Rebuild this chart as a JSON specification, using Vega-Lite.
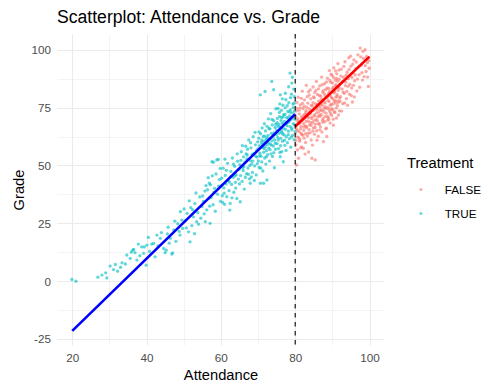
{
  "$schema": "https://vega.github.io/schema/vega-lite/v6.json",
  "autosize": {"type": "none"},
  "padding": {"left": 57, "top": 34, "right": 104, "bottom": 43},
  "width": 327,
  "height": 311,
  "title": {"text": "Scatterplot: Attendance vs. Grade", "anchor": "start", "frame": "group", "fontSize": 17.6, "fontWeight": "normal", "color": "black", "baseline": "alphabetic", "offset": 12, "dy": 19},
  "config": {
    "font": "Liberation Sans",
    "view": {"stroke": null},
    "axis": {"domain": false, "ticks": false, "gridColor": "#EBEBEB", "labelColor": "#4D4D4D", "labelFontSize": 11.7, "titleFontSize": 14.7, "titleFontWeight": "normal", "titleColor": "black", "labelFont": "Liberation Sans", "titleFont": "Liberation Sans"},
    "legend": {"titleFontSize": 14.7, "titleFontWeight": "normal", "titleColor": "black", "labelFontSize": 11.7, "labelColor": "black", "padding": 0}
  },
  "datasets": {
    "pts": [
      {"att":80.1,"grade":71.5,"treat":"FALSE"},{"att":80.2,"grade":58.9,"treat":"FALSE"},{"att":80.3,"grade":66.0,"treat":"FALSE"},{"att":80.4,"grade":50.2,"treat":"FALSE"},{"att":80.5,"grade":74.8,"treat":"FALSE"},{"att":80.6,"grade":62.3,"treat":"FALSE"},{"att":80.7,"grade":69.1,"treat":"FALSE"},{"att":80.8,"grade":79.5,"treat":"FALSE"},{"att":80.9,"grade":53.1,"treat":"FALSE"},{"att":81.0,"grade":64.7,"treat":"FALSE"},
      {"att":81.1,"grade":72.3,"treat":"FALSE"},{"att":81.2,"grade":60.5,"treat":"FALSE"},{"att":81.3,"grade":68.8,"treat":"FALSE"},{"att":81.4,"grade":76.2,"treat":"FALSE"},{"att":81.5,"grade":57.6,"treat":"FALSE"},{"att":81.6,"grade":66.9,"treat":"FALSE"},{"att":81.7,"grade":71.0,"treat":"FALSE"},{"att":81.8,"grade":63.4,"treat":"FALSE"},{"att":81.9,"grade":82.1,"treat":"FALSE"},{"att":82.0,"grade":69.5,"treat":"FALSE"},
      {"att":82.2,"grade":57.4,"treat":"FALSE"},{"att":82.1,"grade":74.6,"treat":"FALSE"},{"att":82.3,"grade":65.2,"treat":"FALSE"},{"att":82.4,"grade":61.8,"treat":"FALSE"},{"att":82.5,"grade":78.3,"treat":"FALSE"},{"att":82.6,"grade":70.4,"treat":"FALSE"},{"att":82.7,"grade":67.1,"treat":"FALSE"},{"att":82.8,"grade":59.9,"treat":"FALSE"},{"att":82.9,"grade":73.7,"treat":"FALSE"},{"att":83.0,"grade":84.6,"treat":"FALSE"},
      {"att":83.1,"grade":66.3,"treat":"FALSE"},{"att":83.2,"grade":71.8,"treat":"FALSE"},{"att":83.3,"grade":62.7,"treat":"FALSE"},{"att":83.4,"grade":76.9,"treat":"FALSE"},{"att":83.5,"grade":69.2,"treat":"FALSE"},{"att":83.6,"grade":55.8,"treat":"FALSE"},{"att":83.7,"grade":73.0,"treat":"FALSE"},{"att":83.8,"grade":80.4,"treat":"FALSE"},{"att":83.9,"grade":67.6,"treat":"FALSE"},{"att":84.0,"grade":64.1,"treat":"FALSE"},
      {"att":84.1,"grade":72.5,"treat":"FALSE"},{"att":84.2,"grade":78.8,"treat":"FALSE"},{"att":84.3,"grade":61.0,"treat":"FALSE"},{"att":84.4,"grade":70.3,"treat":"FALSE"},{"att":84.5,"grade":53.1,"treat":"FALSE"},{"att":84.6,"grade":75.7,"treat":"FALSE"},{"att":84.7,"grade":68.4,"treat":"FALSE"},{"att":84.8,"grade":83.9,"treat":"FALSE"},{"att":84.9,"grade":66.2,"treat":"FALSE"},{"att":85.0,"grade":73.9,"treat":"FALSE"},
      {"att":85.1,"grade":79.2,"treat":"FALSE"},{"att":85.2,"grade":63.5,"treat":"FALSE"},{"att":85.3,"grade":71.4,"treat":"FALSE"},{"att":85.4,"grade":52.4,"treat":"FALSE"},{"att":85.5,"grade":76.6,"treat":"FALSE"},{"att":85.6,"grade":69.8,"treat":"FALSE"},{"att":85.7,"grade":86.3,"treat":"FALSE"},{"att":85.8,"grade":65.0,"treat":"FALSE"},{"att":85.9,"grade":74.2,"treat":"FALSE"},{"att":86.0,"grade":80.7,"treat":"FALSE"},
      {"att":86.1,"grade":70.9,"treat":"FALSE"},{"att":86.2,"grade":62.6,"treat":"FALSE"},{"att":86.3,"grade":77.8,"treat":"FALSE"},{"att":86.4,"grade":73.1,"treat":"FALSE"},{"att":86.5,"grade":68.0,"treat":"FALSE"},{"att":86.6,"grade":84.4,"treat":"FALSE"},{"att":86.7,"grade":75.3,"treat":"FALSE"},{"att":86.8,"grade":66.7,"treat":"FALSE"},{"att":86.9,"grade":79.9,"treat":"FALSE"},{"att":87.0,"grade":72.0,"treat":"FALSE"},
      {"att":87.1,"grade":88.2,"treat":"FALSE"},{"att":87.2,"grade":64.4,"treat":"FALSE"},{"att":87.3,"grade":76.1,"treat":"FALSE"},{"att":87.4,"grade":81.6,"treat":"FALSE"},{"att":87.5,"grade":70.2,"treat":"FALSE"},{"att":87.6,"grade":60.3,"treat":"FALSE"},{"att":87.7,"grade":78.5,"treat":"FALSE"},{"att":87.8,"grade":74.7,"treat":"FALSE"},{"att":87.9,"grade":85.3,"treat":"FALSE"},{"att":88.0,"grade":68.9,"treat":"FALSE"},
      {"att":88.1,"grade":77.0,"treat":"FALSE"},{"att":88.2,"grade":82.8,"treat":"FALSE"},{"att":88.3,"grade":72.6,"treat":"FALSE"},{"att":88.4,"grade":66.1,"treat":"FALSE"},{"att":88.5,"grade":62.5,"treat":"FALSE"},{"att":88.6,"grade":79.4,"treat":"FALSE"},{"att":88.7,"grade":87.7,"treat":"FALSE"},{"att":88.8,"grade":75.0,"treat":"FALSE"},{"att":88.9,"grade":70.8,"treat":"FALSE"},{"att":89.0,"grade":83.3,"treat":"FALSE"},
      {"att":89.1,"grade":77.6,"treat":"FALSE"},{"att":89.2,"grade":91.0,"treat":"FALSE"},{"att":89.3,"grade":73.4,"treat":"FALSE"},{"att":89.4,"grade":68.3,"treat":"FALSE"},{"att":89.5,"grade":80.1,"treat":"FALSE"},{"att":89.6,"grade":85.9,"treat":"FALSE"},{"att":89.7,"grade":76.4,"treat":"FALSE"},{"att":89.8,"grade":71.7,"treat":"FALSE"},{"att":89.9,"grade":88.9,"treat":"FALSE"},{"att":90.0,"grade":79.0,"treat":"FALSE"},
      {"att":90.1,"grade":74.1,"treat":"FALSE"},{"att":90.2,"grade":83.7,"treat":"FALSE"},{"att":90.3,"grade":67.4,"treat":"FALSE"},{"att":90.4,"grade":92.2,"treat":"FALSE"},{"att":90.5,"grade":78.2,"treat":"FALSE"},{"att":90.6,"grade":81.9,"treat":"FALSE"},{"att":90.7,"grade":72.9,"treat":"FALSE"},{"att":90.8,"grade":86.8,"treat":"FALSE"},{"att":90.9,"grade":76.9,"treat":"FALSE"},{"att":91.0,"grade":84.9,"treat":"FALSE"},
      {"att":91.1,"grade":70.5,"treat":"FALSE"},{"att":91.2,"grade":89.6,"treat":"FALSE"},{"att":91.3,"grade":80.6,"treat":"FALSE"},{"att":91.4,"grade":75.8,"treat":"FALSE"},{"att":91.5,"grade":94.0,"treat":"FALSE"},{"att":91.6,"grade":82.4,"treat":"FALSE"},{"att":91.7,"grade":77.3,"treat":"FALSE"},{"att":91.8,"grade":87.2,"treat":"FALSE"},{"att":91.9,"grade":73.6,"treat":"FALSE"},{"att":92.0,"grade":85.1,"treat":"FALSE"},
      {"att":92.2,"grade":79.7,"treat":"FALSE"},{"att":92.4,"grade":91.6,"treat":"FALSE"},{"att":92.6,"grade":83.0,"treat":"FALSE"},{"att":92.8,"grade":76.7,"treat":"FALSE"},{"att":93.0,"grade":88.1,"treat":"FALSE"},{"att":93.2,"grade":81.2,"treat":"FALSE"},{"att":93.4,"grade":94.8,"treat":"FALSE"},{"att":93.6,"grade":86.0,"treat":"FALSE"},{"att":93.8,"grade":78.9,"treat":"FALSE"},{"att":94.0,"grade":90.3,"treat":"FALSE"},
      {"att":94.2,"grade":84.2,"treat":"FALSE"},{"att":94.4,"grade":96.5,"treat":"FALSE"},{"att":94.6,"grade":80.8,"treat":"FALSE"},{"att":94.8,"grade":88.7,"treat":"FALSE"},{"att":95.0,"grade":92.9,"treat":"FALSE"},{"att":95.2,"grade":83.5,"treat":"FALSE"},{"att":95.4,"grade":77.4,"treat":"FALSE"},{"att":95.6,"grade":89.9,"treat":"FALSE"},{"att":95.8,"grade":95.6,"treat":"FALSE"},{"att":96.0,"grade":86.6,"treat":"FALSE"},
      {"att":96.3,"grade":91.8,"treat":"FALSE"},{"att":96.6,"grade":82.2,"treat":"FALSE"},{"att":96.9,"grade":97.8,"treat":"FALSE"},{"att":97.2,"grade":89.2,"treat":"FALSE"},{"att":97.5,"grade":100.7,"treat":"FALSE"},{"att":97.8,"grade":93.4,"treat":"FALSE"},{"att":98.1,"grade":86.9,"treat":"FALSE"},{"att":98.4,"grade":96.2,"treat":"FALSE"},{"att":98.8,"grade":100.0,"treat":"FALSE"},{"att":99.1,"grade":90.6,"treat":"FALSE"},
      {"att":99.4,"grade":94.4,"treat":"FALSE"},{"att":99.7,"grade":84.1,"treat":"FALSE"},{"att":99.9,"grade":92.0,"treat":"FALSE"},
      {"att":80.05,"grade":63.8,"treat":"FALSE"},{"att":80.25,"grade":70.6,"treat":"FALSE"},{"att":80.45,"grade":77.2,"treat":"FALSE"},{"att":80.65,"grade":56.7,"treat":"FALSE"},{"att":80.85,"grade":68.3,"treat":"FALSE"},{"att":81.05,"grade":73.9,"treat":"FALSE"},{"att":81.25,"grade":61.2,"treat":"FALSE"},{"att":81.45,"grade":65.9,"treat":"FALSE"},{"att":81.65,"grade":79.0,"treat":"FALSE"},{"att":81.85,"grade":70.2,"treat":"FALSE"},
      {"att":82.05,"grade":63.0,"treat":"FALSE"},{"att":82.25,"grade":68.1,"treat":"FALSE"},{"att":82.45,"grade":75.6,"treat":"FALSE"},{"att":82.65,"grade":54.9,"treat":"FALSE"},{"att":82.85,"grade":72.8,"treat":"FALSE"},{"att":83.05,"grade":66.9,"treat":"FALSE"},{"att":83.25,"grade":79.7,"treat":"FALSE"},{"att":83.45,"grade":63.9,"treat":"FALSE"},{"att":83.65,"grade":70.7,"treat":"FALSE"},{"att":83.85,"grade":74.4,"treat":"FALSE"},
      {"att":84.05,"grade":82.6,"treat":"FALSE"},{"att":84.25,"grade":67.3,"treat":"FALSE"},{"att":84.45,"grade":73.5,"treat":"FALSE"},{"att":84.65,"grade":58.8,"treat":"FALSE"},{"att":84.85,"grade":77.1,"treat":"FALSE"},{"att":85.05,"grade":69.4,"treat":"FALSE"},{"att":85.25,"grade":81.5,"treat":"FALSE"},{"att":85.45,"grade":67.8,"treat":"FALSE"},{"att":85.65,"grade":74.9,"treat":"FALSE"},{"att":85.85,"grade":60.9,"treat":"FALSE"},
      {"att":86.05,"grade":76.3,"treat":"FALSE"},{"att":86.25,"grade":83.1,"treat":"FALSE"},{"att":86.45,"grade":71.6,"treat":"FALSE"},{"att":86.65,"grade":65.4,"treat":"FALSE"},{"att":86.85,"grade":74.0,"treat":"FALSE"},{"att":87.05,"grade":78.6,"treat":"FALSE"},{"att":87.25,"grade":84.9,"treat":"FALSE"},{"att":87.45,"grade":68.7,"treat":"FALSE"},{"att":87.65,"grade":73.3,"treat":"FALSE"},{"att":87.85,"grade":80.9,"treat":"FALSE"},
      {"att":88.05,"grade":75.4,"treat":"FALSE"},{"att":88.25,"grade":65.8,"treat":"FALSE"},{"att":88.45,"grade":86.1,"treat":"FALSE"},{"att":88.65,"grade":71.2,"treat":"FALSE"},{"att":88.85,"grade":78.1,"treat":"FALSE"},{"att":89.05,"grade":69.9,"treat":"FALSE"},{"att":89.25,"grade":82.0,"treat":"FALSE"},{"att":89.45,"grade":76.0,"treat":"FALSE"},{"att":89.65,"grade":89.4,"treat":"FALSE"},{"att":89.85,"grade":74.5,"treat":"FALSE"},
      {"att":90.05,"grade":85.6,"treat":"FALSE"},{"att":90.25,"grade":70.0,"treat":"FALSE"},{"att":90.45,"grade":81.3,"treat":"FALSE"},{"att":90.65,"grade":77.7,"treat":"FALSE"},{"att":90.85,"grade":90.8,"treat":"FALSE"},{"att":91.05,"grade":74.8,"treat":"FALSE"},{"att":91.25,"grade":79.9,"treat":"FALSE"},{"att":91.45,"grade":86.4,"treat":"FALSE"},{"att":91.65,"grade":71.8,"treat":"FALSE"},{"att":91.85,"grade":83.6,"treat":"FALSE"},
      {"att":92.1,"grade":77.8,"treat":"FALSE"},{"att":92.3,"grade":88.6,"treat":"FALSE"},{"att":92.5,"grade":73.5,"treat":"FALSE"},{"att":92.7,"grade":86.2,"treat":"FALSE"},{"att":92.9,"grade":81.7,"treat":"FALSE"},{"att":93.1,"grade":92.8,"treat":"FALSE"},{"att":93.3,"grade":77.0,"treat":"FALSE"},{"att":93.5,"grade":84.5,"treat":"FALSE"},{"att":93.7,"grade":89.0,"treat":"FALSE"},{"att":93.9,"grade":82.0,"treat":"FALSE"},
      {"att":94.1,"grade":76.0,"treat":"FALSE"},{"att":94.3,"grade":87.5,"treat":"FALSE"},{"att":94.5,"grade":91.5,"treat":"FALSE"},{"att":94.7,"grade":85.0,"treat":"FALSE"},{"att":94.9,"grade":97.2,"treat":"FALSE"},{"att":95.1,"grade":80.2,"treat":"FALSE"},{"att":95.3,"grade":88.0,"treat":"FALSE"},{"att":95.5,"grade":93.8,"treat":"FALSE"},{"att":95.7,"grade":84.6,"treat":"FALSE"},{"att":95.9,"grade":79.6,"treat":"FALSE"},
      {"att":96.15,"grade":89.1,"treat":"FALSE"},{"att":96.45,"grade":94.7,"treat":"FALSE"},{"att":96.75,"grade":87.3,"treat":"FALSE"},{"att":97.05,"grade":92.6,"treat":"FALSE"},{"att":97.35,"grade":83.8,"treat":"FALSE"},{"att":97.65,"grade":96.9,"treat":"FALSE"},{"att":97.95,"grade":90.1,"treat":"FALSE"},{"att":98.25,"grade":99.3,"treat":"FALSE"},{"att":98.55,"grade":88.4,"treat":"FALSE"},{"att":98.85,"grade":93.1,"treat":"FALSE"},
      {"att":99.2,"grade":97.1,"treat":"FALSE"},{"att":99.5,"grade":88.2,"treat":"FALSE"},{"att":99.8,"grade":95.3,"treat":"FALSE"},
      {"att":80.15,"grade":60.8,"treat":"FALSE"},{"att":80.35,"grade":73.6,"treat":"FALSE"},{"att":80.55,"grade":65.1,"treat":"FALSE"},{"att":80.75,"grade":70.0,"treat":"FALSE"},{"att":80.95,"grade":62.0,"treat":"FALSE"},{"att":81.15,"grade":68.2,"treat":"FALSE"},{"att":81.35,"grade":74.9,"treat":"FALSE"},{"att":81.55,"grade":63.9,"treat":"FALSE"},{"att":81.75,"grade":58.0,"treat":"FALSE"},{"att":81.95,"grade":76.8,"treat":"FALSE"},
      {"att":82.15,"grade":71.4,"treat":"FALSE"},{"att":82.35,"grade":66.6,"treat":"FALSE"},{"att":82.55,"grade":72.1,"treat":"FALSE"},{"att":82.75,"grade":63.7,"treat":"FALSE"},{"att":82.95,"grade":69.0,"treat":"FALSE"},{"att":83.15,"grade":75.1,"treat":"FALSE"},{"att":83.35,"grade":71.0,"treat":"FALSE"},{"att":83.55,"grade":81.8,"treat":"FALSE"},{"att":83.75,"grade":65.5,"treat":"FALSE"},{"att":83.95,"grade":72.2,"treat":"FALSE"},
      {"att":84.15,"grade":68.6,"treat":"FALSE"},{"att":84.35,"grade":76.0,"treat":"FALSE"},{"att":84.55,"grade":70.9,"treat":"FALSE"},{"att":84.75,"grade":64.8,"treat":"FALSE"},{"att":84.95,"grade":79.6,"treat":"FALSE"},{"att":85.15,"grade":71.8,"treat":"FALSE"},{"att":85.35,"grade":66.4,"treat":"FALSE"},{"att":85.55,"grade":82.4,"treat":"FALSE"},{"att":85.75,"grade":72.7,"treat":"FALSE"},{"att":85.95,"grade":69.3,"treat":"FALSE"},
      {"att":86.15,"grade":75.6,"treat":"FALSE"},{"att":86.35,"grade":67.9,"treat":"FALSE"},{"att":86.55,"grade":80.2,"treat":"FALSE"},{"att":86.75,"grade":71.3,"treat":"FALSE"},{"att":86.95,"grade":76.5,"treat":"FALSE"},{"att":87.15,"grade":73.8,"treat":"FALSE"},{"att":87.35,"grade":69.5,"treat":"FALSE"},{"att":87.55,"grade":82.3,"treat":"FALSE"},{"att":87.75,"grade":77.4,"treat":"FALSE"},{"att":87.95,"grade":71.1,"treat":"FALSE"},
      {"att":88.15,"grade":80.0,"treat":"FALSE"},{"att":88.35,"grade":74.6,"treat":"FALSE"},{"att":88.55,"grade":83.5,"treat":"FALSE"},{"att":88.75,"grade":69.6,"treat":"FALSE"},{"att":88.95,"grade":81.1,"treat":"FALSE"},{"att":89.15,"grade":74.3,"treat":"FALSE"},{"att":89.35,"grade":86.7,"treat":"FALSE"},{"att":89.55,"grade":72.4,"treat":"FALSE"},{"att":89.75,"grade":79.3,"treat":"FALSE"},{"att":89.95,"grade":83.0,"treat":"FALSE"},
      {"att":90.15,"grade":76.6,"treat":"FALSE"},{"att":90.35,"grade":88.0,"treat":"FALSE"},{"att":90.55,"grade":73.1,"treat":"FALSE"},{"att":90.75,"grade":84.3,"treat":"FALSE"},{"att":90.95,"grade":79.5,"treat":"FALSE"},{"att":91.15,"grade":87.6,"treat":"FALSE"},{"att":91.35,"grade":77.9,"treat":"FALSE"},{"att":91.55,"grade":83.9,"treat":"FALSE"},{"att":91.75,"grade":91.2,"treat":"FALSE"},{"att":91.95,"grade":79.1,"treat":"FALSE"},
      {"att":19.9,"grade":0.7,"treat":"TRUE"},{"att":21.0,"grade":0.0,"treat":"TRUE"},{"att":26.9,"grade":1.7,"treat":"TRUE"},{"att":28.0,"grade":2.6,"treat":"TRUE"},{"att":29.0,"grade":3.6,"treat":"TRUE"},{"att":29.3,"grade":1.4,"treat":"TRUE"},{"att":30.2,"grade":6.5,"treat":"TRUE"},{"att":31.1,"grade":5.0,"treat":"TRUE"},{"att":31.6,"grade":7.2,"treat":"TRUE"},{"att":33.4,"grade":7.9,"treat":"TRUE"},{"att":34.3,"grade":7.4,"treat":"TRUE"},{"att":34.7,"grade":11.3,"treat":"TRUE"},
      {"att":35.6,"grade":9.8,"treat":"TRUE"},{"att":36.5,"grade":13.7,"treat":"TRUE"},{"att":36.9,"grade":12.3,"treat":"TRUE"},{"att":37.4,"grade":9.1,"treat":"TRUE"},{"att":38.7,"grade":14.8,"treat":"TRUE"},{"att":39.2,"grade":12.0,"treat":"TRUE"},{"att":39.9,"grade":6.9,"treat":"TRUE"},{"att":40.1,"grade":15.6,"treat":"TRUE"},{"att":40.5,"grade":18.9,"treat":"TRUE"},{"att":41.4,"grade":16.0,"treat":"TRUE"},{"att":42.3,"grade":10.5,"treat":"TRUE"},{"att":43.7,"grade":18.5,"treat":"TRUE"},
      {"att":36.3,"grade":13.4,"treat":"TRUE"},{"att":39.4,"grade":14.8,"treat":"TRUE"},{"att":41.9,"grade":16.3,"treat":"TRUE"},{"att":44.6,"grade":14.1,"treat":"TRUE"},{"att":37.8,"grade":16.0,"treat":"TRUE"},{"att":38.2,"grade":11.0,"treat":"TRUE"},{"att":40.8,"grade":12.8,"treat":"TRUE"},{"att":42.8,"grade":19.9,"treat":"TRUE"},{"att":43.1,"grade":15.2,"treat":"TRUE"},{"att":44.0,"grade":21.0,"treat":"TRUE"},{"att":35.9,"grade":12.5,"treat":"TRUE"},{"att":33.0,"grade":6.0,"treat":"TRUE"},{"att":32.2,"grade":4.3,"treat":"TRUE"},
      {"att":45.0,"grade":12.3,"treat":"TRUE"},{"att":45.3,"grade":13.4,"treat":"TRUE"},{"att":46.8,"grade":11.7,"treat":"TRUE"},{"att":47.0,"grade":12.2,"treat":"TRUE"},{"att":46.4,"grade":18.5,"treat":"TRUE"},{"att":45.6,"grade":20.4,"treat":"TRUE"},{"att":47.3,"grade":22.1,"treat":"TRUE"},{"att":47.9,"grade":17.2,"treat":"TRUE"},{"att":48.4,"grade":24.8,"treat":"TRUE"},{"att":49.0,"grade":19.9,"treat":"TRUE"},{"att":49.1,"grade":30.0,"treat":"TRUE"},{"att":49.5,"grade":26.4,"treat":"TRUE"},{"att":48.8,"grade":21.5,"treat":"TRUE"},{"att":46.1,"grade":16.4,"treat":"TRUE"},{"att":47.6,"grade":25.9,"treat":"TRUE"},{"att":45.8,"grade":23.3,"treat":"TRUE"},{"att":49.7,"grade":22.8,"treat":"TRUE"},
      {"att":50.9,"grade":29.3,"treat":"TRUE"},{"att":51.3,"grade":21.3,"treat":"TRUE"},{"att":51.7,"grade":17.0,"treat":"TRUE"},{"att":52.6,"grade":27.8,"treat":"TRUE"},{"att":53.5,"grade":25.7,"treat":"TRUE"},{"att":54.9,"grade":32.2,"treat":"TRUE"},{"att":50.4,"grade":26.1,"treat":"TRUE"},{"att":51.9,"grade":31.8,"treat":"TRUE"},{"att":52.2,"grade":24.0,"treat":"TRUE"},{"att":53.0,"grade":33.5,"treat":"TRUE"},{"att":53.8,"grade":29.6,"treat":"TRUE"},{"att":54.3,"grade":36.4,"treat":"TRUE"},{"att":50.7,"grade":23.0,"treat":"TRUE"},{"att":52.9,"grade":20.5,"treat":"TRUE"},{"att":54.6,"grade":27.2,"treat":"TRUE"},{"att":51.5,"grade":34.7,"treat":"TRUE"},{"att":53.3,"grade":38.1,"treat":"TRUE"},{"att":54.0,"grade":24.6,"treat":"TRUE"},{"att":52.4,"grade":30.9,"treat":"TRUE"},{"att":50.1,"grade":31.2,"treat":"TRUE"},
      {"att":55.8,"grade":25.7,"treat":"TRUE"},{"att":57.1,"grade":25.0,"treat":"TRUE"},{"att":57.2,"grade":41.6,"treat":"TRUE"},{"att":56.9,"grade":42.3,"treat":"TRUE"},{"att":57.6,"grade":51.6,"treat":"TRUE"},{"att":58.9,"grade":52.4,"treat":"TRUE"},{"att":58.0,"grade":51.4,"treat":"TRUE"},{"att":59.3,"grade":52.6,"treat":"TRUE"},{"att":55.3,"grade":34.5,"treat":"TRUE"},{"att":55.7,"grade":38.9,"treat":"TRUE"},{"att":56.2,"grade":30.8,"treat":"TRUE"},{"att":56.6,"grade":44.7,"treat":"TRUE"},{"att":57.4,"grade":36.2,"treat":"TRUE"},{"att":57.9,"grade":33.0,"treat":"TRUE"},{"att":58.3,"grade":40.1,"treat":"TRUE"},
      {"att":58.7,"grade":46.3,"treat":"TRUE"},{"att":59.1,"grade":37.6,"treat":"TRUE"},{"att":59.6,"grade":43.9,"treat":"TRUE"},{"att":55.5,"grade":29.1,"treat":"TRUE"},{"att":56.0,"grade":41.3,"treat":"TRUE"},{"att":56.8,"grade":35.8,"treat":"TRUE"},{"att":58.5,"grade":30.2,"treat":"TRUE"},{"att":59.8,"grade":48.7,"treat":"TRUE"},{"att":55.1,"grade":36.8,"treat":"TRUE"},{"att":56.4,"grade":39.5,"treat":"TRUE"},{"att":57.7,"grade":45.5,"treat":"TRUE"},{"att":58.1,"grade":38.3,"treat":"TRUE"},{"att":59.4,"grade":41.0,"treat":"TRUE"},{"att":59.9,"grade":34.5,"treat":"TRUE"},{"att":57.0,"grade":32.4,"treat":"TRUE"},
      {"att":60.2,"grade":44.5,"treat":"TRUE"},{"att":60.4,"grade":36.9,"treat":"TRUE"},{"att":60.6,"grade":48.8,"treat":"TRUE"},{"att":60.8,"grade":40.3,"treat":"TRUE"},{"att":61.0,"grade":33.2,"treat":"TRUE"},{"att":61.2,"grade":45.7,"treat":"TRUE"},{"att":61.4,"grade":42.0,"treat":"TRUE"},{"att":61.6,"grade":36.5,"treat":"TRUE"},{"att":61.8,"grade":50.9,"treat":"TRUE"},{"att":62.0,"grade":43.6,"treat":"TRUE"},{"att":62.2,"grade":39.1,"treat":"TRUE"},{"att":62.5,"grade":33.6,"treat":"TRUE"},{"att":62.4,"grade":30.7,"treat":"TRUE"},
      {"att":62.7,"grade":47.4,"treat":"TRUE"},{"att":62.9,"grade":41.8,"treat":"TRUE"},{"att":63.1,"grade":53.2,"treat":"TRUE"},{"att":63.3,"grade":44.9,"treat":"TRUE"},{"att":63.5,"grade":38.4,"treat":"TRUE"},{"att":63.7,"grade":49.6,"treat":"TRUE"},{"att":63.9,"grade":42.7,"treat":"TRUE"},{"att":64.1,"grade":46.0,"treat":"TRUE"},{"att":64.3,"grade":35.7,"treat":"TRUE"},{"att":64.5,"grade":51.8,"treat":"TRUE"},{"att":64.7,"grade":44.1,"treat":"TRUE"},{"att":64.9,"grade":48.3,"treat":"TRUE"},
      {"att":60.1,"grade":41.2,"treat":"TRUE"},{"att":60.9,"grade":38.0,"treat":"TRUE"},{"att":61.5,"grade":47.9,"treat":"TRUE"},{"att":62.3,"grade":42.8,"treat":"TRUE"},{"att":63.0,"grade":36.0,"treat":"TRUE"},{"att":63.8,"grade":45.5,"treat":"TRUE"},{"att":64.4,"grade":55.0,"treat":"TRUE"},{"att":65.2,"grade":34.3,"treat":"TRUE"},{"att":61.1,"grade":52.7,"treat":"TRUE"},{"att":62.6,"grade":45.0,"treat":"TRUE"},{"att":64.0,"grade":40.2,"treat":"TRUE"},{"att":60.5,"grade":34.0,"treat":"TRUE"},{"att":63.4,"grade":50.5,"treat":"TRUE"},
      {"att":65.1,"grade":50.3,"treat":"TRUE"},{"att":65.3,"grade":45.6,"treat":"TRUE"},{"att":65.5,"grade":55.9,"treat":"TRUE"},{"att":65.7,"grade":43.1,"treat":"TRUE"},{"att":65.9,"grade":49.0,"treat":"TRUE"},{"att":66.1,"grade":53.7,"treat":"TRUE"},{"att":66.3,"grade":39.8,"treat":"TRUE"},{"att":66.5,"grade":51.4,"treat":"TRUE"},{"att":66.7,"grade":58.3,"treat":"TRUE"},{"att":66.9,"grade":46.4,"treat":"TRUE"},{"att":67.1,"grade":54.5,"treat":"TRUE"},{"att":67.3,"grade":48.9,"treat":"TRUE"},{"att":67.5,"grade":61.0,"treat":"TRUE"},{"att":67.7,"grade":44.2,"treat":"TRUE"},{"att":67.9,"grade":42.3,"treat":"TRUE"},
      {"att":67.95,"grade":52.1,"treat":"TRUE"},{"att":68.1,"grade":57.6,"treat":"TRUE"},{"att":68.3,"grade":50.7,"treat":"TRUE"},{"att":68.5,"grade":47.0,"treat":"TRUE"},{"att":68.7,"grade":62.4,"treat":"TRUE"},{"att":68.9,"grade":55.2,"treat":"TRUE"},{"att":69.1,"grade":49.8,"treat":"TRUE"},{"att":69.3,"grade":58.9,"treat":"TRUE"},{"att":69.5,"grade":45.9,"treat":"TRUE"},{"att":69.7,"grade":53.6,"treat":"TRUE"},{"att":69.9,"grade":60.2,"treat":"TRUE"},{"att":65.4,"grade":52.2,"treat":"TRUE"},{"att":66.0,"grade":47.8,"treat":"TRUE"},{"att":66.6,"grade":44.9,"treat":"TRUE"},{"att":67.2,"grade":57.0,"treat":"TRUE"},
      {"att":67.8,"grade":50.0,"treat":"TRUE"},{"att":68.4,"grade":54.8,"treat":"TRUE"},{"att":69.0,"grade":43.5,"treat":"TRUE"},{"att":69.6,"grade":56.4,"treat":"TRUE"},{"att":65.8,"grade":58.6,"treat":"TRUE"},{"att":66.8,"grade":55.0,"treat":"TRUE"},{"att":67.4,"grade":46.2,"treat":"TRUE"},{"att":68.0,"grade":59.8,"treat":"TRUE"},{"att":68.6,"grade":51.9,"treat":"TRUE"},{"att":69.2,"grade":64.3,"treat":"TRUE"},{"att":69.8,"grade":50.8,"treat":"TRUE"},{"att":66.2,"grade":49.5,"treat":"TRUE"},{"att":67.0,"grade":52.8,"treat":"TRUE"},{"att":68.2,"grade":45.0,"treat":"TRUE"},{"att":69.4,"grade":54.0,"treat":"TRUE"},{"att":65.0,"grade":42.0,"treat":"TRUE"},
      {"att":70.0,"grade":57.2,"treat":"TRUE"},{"att":70.1,"grade":52.0,"treat":"TRUE"},{"att":70.2,"grade":61.8,"treat":"TRUE"},{"att":70.3,"grade":49.1,"treat":"TRUE"},{"att":70.4,"grade":58.6,"treat":"TRUE"},{"att":70.5,"grade":55.3,"treat":"TRUE"},{"att":70.6,"grade":80.5,"treat":"TRUE"},{"att":70.65,"grade":42.3,"treat":"TRUE"},{"att":70.7,"grade":63.7,"treat":"TRUE"},{"att":70.8,"grade":54.0,"treat":"TRUE"},{"att":70.9,"grade":59.9,"treat":"TRUE"},{"att":71.0,"grade":51.5,"treat":"TRUE"},{"att":71.1,"grade":66.2,"treat":"TRUE"},{"att":71.2,"grade":57.8,"treat":"TRUE"},{"att":71.3,"grade":47.6,"treat":"TRUE"},
      {"att":71.4,"grade":62.5,"treat":"TRUE"},{"att":71.5,"grade":42.3,"treat":"TRUE"},{"att":71.55,"grade":55.7,"treat":"TRUE"},{"att":71.6,"grade":60.4,"treat":"TRUE"},{"att":71.7,"grade":68.0,"treat":"TRUE"},{"att":71.8,"grade":53.2,"treat":"TRUE"},{"att":71.9,"grade":82.0,"treat":"TRUE"},{"att":71.95,"grade":58.1,"treat":"TRUE"},{"att":72.0,"grade":64.9,"treat":"TRUE"},{"att":72.1,"grade":50.6,"treat":"TRUE"},{"att":72.2,"grade":61.3,"treat":"TRUE"},{"att":72.3,"grade":56.4,"treat":"TRUE"},{"att":72.4,"grade":43.7,"treat":"TRUE"},{"att":72.45,"grade":66.9,"treat":"TRUE"},{"att":72.5,"grade":59.0,"treat":"TRUE"},
      {"att":72.6,"grade":54.7,"treat":"TRUE"},{"att":72.7,"grade":63.0,"treat":"TRUE"},{"att":72.8,"grade":70.1,"treat":"TRUE"},{"att":72.9,"grade":57.5,"treat":"TRUE"},{"att":73.0,"grade":61.6,"treat":"TRUE"},{"att":73.1,"grade":51.9,"treat":"TRUE"},{"att":73.2,"grade":65.8,"treat":"TRUE"},{"att":73.3,"grade":59.3,"treat":"TRUE"},{"att":73.4,"grade":72.4,"treat":"TRUE"},{"att":73.5,"grade":55.0,"treat":"TRUE"},{"att":73.6,"grade":63.8,"treat":"TRUE"},{"att":73.7,"grade":86.3,"treat":"TRUE"},{"att":73.72,"grade":60.7,"treat":"TRUE"},{"att":73.8,"grade":67.5,"treat":"TRUE"},{"att":73.9,"grade":53.9,"treat":"TRUE"},
      {"att":74.0,"grade":62.2,"treat":"TRUE"},{"att":74.1,"grade":58.4,"treat":"TRUE"},{"att":74.2,"grade":82.7,"treat":"TRUE"},{"att":74.22,"grade":69.3,"treat":"TRUE"},{"att":74.3,"grade":64.1,"treat":"TRUE"},{"att":74.4,"grade":49.0,"treat":"TRUE"},{"att":74.5,"grade":61.0,"treat":"TRUE"},{"att":74.6,"grade":66.4,"treat":"TRUE"},{"att":74.7,"grade":57.0,"treat":"TRUE"},{"att":74.8,"grade":74.5,"treat":"TRUE"},{"att":74.9,"grade":63.3,"treat":"TRUE"},{"att":70.25,"grade":64.5,"treat":"TRUE"},{"att":70.75,"grade":48.8,"treat":"TRUE"},{"att":71.25,"grade":59.1,"treat":"TRUE"},{"att":71.75,"grade":62.7,"treat":"TRUE"},
      {"att":72.25,"grade":53.8,"treat":"TRUE"},{"att":72.75,"grade":60.0,"treat":"TRUE"},{"att":73.25,"grade":56.8,"treat":"TRUE"},{"att":73.75,"grade":69.9,"treat":"TRUE"},{"att":74.25,"grade":55.5,"treat":"TRUE"},{"att":74.75,"grade":67.8,"treat":"TRUE"},{"att":70.45,"grade":54.1,"treat":"TRUE"},{"att":71.05,"grade":61.0,"treat":"TRUE"},{"att":71.65,"grade":57.3,"treat":"TRUE"},{"att":72.35,"grade":62.0,"treat":"TRUE"},{"att":72.95,"grade":66.0,"treat":"TRUE"},{"att":73.55,"grade":58.8,"treat":"TRUE"},{"att":74.15,"grade":63.0,"treat":"TRUE"},{"att":74.65,"grade":59.6,"treat":"TRUE"},
      {"att":75.0,"grade":65.2,"treat":"TRUE"},{"att":75.1,"grade":59.4,"treat":"TRUE"},{"att":75.2,"grade":70.3,"treat":"TRUE"},{"att":75.3,"grade":62.1,"treat":"TRUE"},{"att":75.4,"grade":74.6,"treat":"TRUE"},{"att":75.5,"grade":57.3,"treat":"TRUE"},{"att":75.6,"grade":67.7,"treat":"TRUE"},{"att":75.7,"grade":63.9,"treat":"TRUE"},{"att":75.8,"grade":71.1,"treat":"TRUE"},{"att":75.9,"grade":55.6,"treat":"TRUE"},{"att":76.0,"grade":80.5,"treat":"TRUE"},{"att":76.02,"grade":66.5,"treat":"TRUE"},{"att":75.98,"grade":53.8,"treat":"TRUE"},{"att":76.1,"grade":61.7,"treat":"TRUE"},{"att":76.2,"grade":69.4,"treat":"TRUE"},
      {"att":76.3,"grade":73.8,"treat":"TRUE"},{"att":76.4,"grade":56.0,"treat":"TRUE"},{"att":76.42,"grade":64.3,"treat":"TRUE"},{"att":76.5,"grade":68.2,"treat":"TRUE"},{"att":76.6,"grade":60.5,"treat":"TRUE"},{"att":76.7,"grade":76.0,"treat":"TRUE"},{"att":76.8,"grade":51.6,"treat":"TRUE"},{"att":76.82,"grade":66.0,"treat":"TRUE"},{"att":76.9,"grade":71.9,"treat":"TRUE"},{"att":77.0,"grade":63.2,"treat":"TRUE"},{"att":77.1,"grade":69.0,"treat":"TRUE"},{"att":77.2,"grade":58.7,"treat":"TRUE"},{"att":77.3,"grade":74.9,"treat":"TRUE"},{"att":77.4,"grade":65.6,"treat":"TRUE"},{"att":77.5,"grade":78.4,"treat":"TRUE"},
      {"att":77.6,"grade":62.4,"treat":"TRUE"},{"att":77.7,"grade":70.7,"treat":"TRUE"},{"att":77.8,"grade":67.1,"treat":"TRUE"},{"att":77.9,"grade":59.8,"treat":"TRUE"},{"att":78.0,"grade":73.3,"treat":"TRUE"},{"att":78.1,"grade":68.6,"treat":"TRUE"},{"att":78.2,"grade":64.8,"treat":"TRUE"},{"att":78.3,"grade":77.1,"treat":"TRUE"},{"att":78.4,"grade":61.5,"treat":"TRUE"},{"att":78.5,"grade":71.4,"treat":"TRUE"},{"att":78.6,"grade":89.9,"treat":"TRUE"},{"att":78.62,"grade":66.8,"treat":"TRUE"},{"att":78.7,"grade":74.0,"treat":"TRUE"},{"att":78.8,"grade":57.9,"treat":"TRUE"},{"att":78.9,"grade":69.9,"treat":"TRUE"},
      {"att":79.0,"grade":80.8,"treat":"TRUE"},{"att":79.1,"grade":85.6,"treat":"TRUE"},{"att":79.12,"grade":65.4,"treat":"TRUE"},{"att":79.2,"grade":72.7,"treat":"TRUE"},{"att":79.3,"grade":63.0,"treat":"TRUE"},{"att":79.4,"grade":76.5,"treat":"TRUE"},{"att":79.5,"grade":68.1,"treat":"TRUE"},{"att":79.6,"grade":83.0,"treat":"TRUE"},{"att":79.7,"grade":61.1,"treat":"TRUE"},{"att":79.8,"grade":73.5,"treat":"TRUE"},{"att":79.9,"grade":70.0,"treat":"TRUE"},{"att":75.15,"grade":68.5,"treat":"TRUE"},{"att":75.45,"grade":61.0,"treat":"TRUE"},{"att":75.75,"grade":72.9,"treat":"TRUE"},{"att":76.05,"grade":58.5,"treat":"TRUE"},
      {"att":76.35,"grade":70.6,"treat":"TRUE"},{"att":76.65,"grade":63.6,"treat":"TRUE"},{"att":76.95,"grade":67.5,"treat":"TRUE"},{"att":77.25,"grade":72.1,"treat":"TRUE"},{"att":77.55,"grade":56.5,"treat":"TRUE"},{"att":77.85,"grade":75.8,"treat":"TRUE"},{"att":78.15,"grade":63.3,"treat":"TRUE"},{"att":78.45,"grade":69.2,"treat":"TRUE"},{"att":78.75,"grade":79.3,"treat":"TRUE"},{"att":79.05,"grade":66.1,"treat":"TRUE"},{"att":79.35,"grade":70.9,"treat":"TRUE"},{"att":79.65,"grade":76.9,"treat":"TRUE"},{"att":79.95,"grade":64.6,"treat":"TRUE"},{"att":75.35,"grade":66.9,"treat":"TRUE"},{"att":75.85,"grade":76.6,"treat":"TRUE"},
      {"att":76.25,"grade":65.0,"treat":"TRUE"},{"att":76.75,"grade":71.0,"treat":"TRUE"},{"att":77.15,"grade":60.9,"treat":"TRUE"},{"att":77.65,"grade":68.0,"treat":"TRUE"},{"att":78.05,"grade":70.5,"treat":"TRUE"},{"att":78.55,"grade":73.1,"treat":"TRUE"},{"att":78.95,"grade":62.2,"treat":"TRUE"},{"att":79.45,"grade":75.0,"treat":"TRUE"},{"att":79.85,"grade":67.4,"treat":"TRUE"},{"att":77.35,"grade":81.2,"treat":"TRUE"},{"att":78.25,"grade":84.0,"treat":"TRUE"},{"att":79.25,"grade":88.1,"treat":"TRUE"},{"att":76.55,"grade":78.8,"treat":"TRUE"},{"att":79.75,"grade":79.7,"treat":"TRUE"}
    ],
    "fit": [
      {"att":20,"grade":-21.5,"treat":"TRUE"},{"att":80,"grade":72.2,"treat":"TRUE"},
      {"att":80,"grade":66.8,"treat":"FALSE"},{"att":100,"grade":97.0,"treat":"FALSE"}
    ]
  },
  "encoding": {
    "x": {"field": "att", "type": "quantitative", "scale": {"domain": [15.9, 103.9], "nice": false, "zero": false},
      "axis": {"title": "Attendance", "values": [20,30,40,50,60,70,80,90,100], "labelExpr": "datum.value % 20 == 0 ? '' + datum.value : ''", "gridWidth": {"condition": {"test": "datum.value % 20 == 0", "value": 1.1}, "value": 0.55}, "labelPadding": 7.5, "titlePadding": 3}},
    "y": {"field": "grade", "type": "quantitative", "scale": {"domain": [-27.6, 106.8], "nice": false, "zero": false},
      "axis": {"title": "Grade", "values": [-25,-12.5,0,12.5,25,37.5,50,62.5,75,87.5,100], "labelExpr": "datum.value % 25 == 0 ? '' + datum.value : ''", "gridWidth": {"condition": {"test": "datum.value % 25 == 0", "value": 1.1}, "value": 0.55}, "labelPadding": 6.5, "titlePadding": 4}}
  },
  "layer": [
    {"data": {"name": "pts"},
     "mark": {"type": "circle", "size": 11, "opacity": 0.62, "strokeWidth": 0},
     "encoding": {"color": {"field": "treat", "type": "nominal", "scale": {"domain": ["FALSE", "TRUE"], "range": ["#F8766D", "#00BFC4"]},
       "legend": {"title": "Treatment", "orient": "none", "legendX": 350, "legendY": 122, "symbolType": "circle", "symbolSize": 9, "symbolOpacity": 0.6, "symbolStrokeWidth": 0, "symbolOffset": 8, "labelOffset": 18, "rowPadding": 11, "titlePadding": 13}}}},
    {"data": {"name": "fit"},
     "transform": [{"filter": "datum.treat == 'TRUE'"}],
     "mark": {"type": "line", "color": "#0000FF", "strokeWidth": 2.6},
     "encoding": {}},
    {"data": {"name": "fit"},
     "transform": [{"filter": "datum.treat == 'FALSE'"}],
     "mark": {"type": "line", "color": "#FF0000", "strokeWidth": 2.6},
     "encoding": {}},
    {"data": {"values": [{"cut": 80}]},
     "mark": {"type": "rule", "color": "black", "strokeWidth": 1.1, "strokeDash": [4.5, 4.5]},
     "encoding": {"x": {"field": "cut", "type": "quantitative"}, "y": null}}
  ]
}
